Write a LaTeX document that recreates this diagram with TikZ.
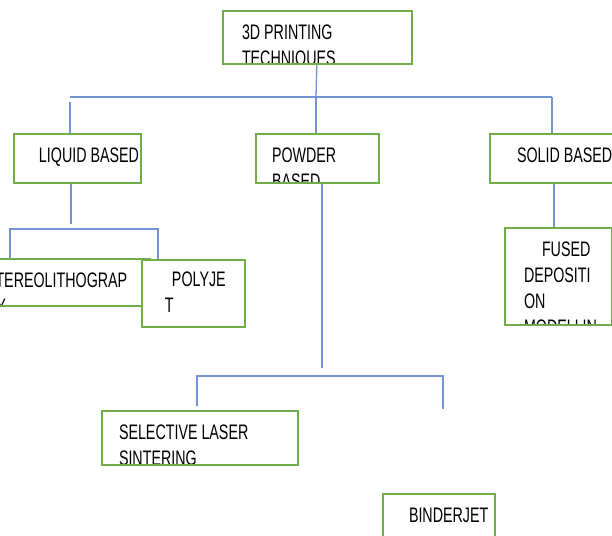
\documentclass[tikz,border=0pt]{standalone}
\usepackage{fontspec}
\setmainfont{Liberation Sans}[FakeStretch=0.68]
\usetikzlibrary{calc}
\definecolor{boxgreen}{RGB}{112,173,71}
\definecolor{linkblue}{RGB}{114,147,214}
\newcommand\boxfont{\fontsize{15.75pt}{19.5pt}\selectfont}

\begin{document}
\begin{tikzpicture}[x=0.75pt, y=-0.75pt,
  txt/.style={draw=none, fill=none, inner sep=0pt, minimum width=0pt, minimum height=0pt, align=left, font=\boxfont},
  box/.style n args={3}{draw=boxgreen, line width=1.5pt, fill=white, anchor=north west, inner sep=0pt,
    path picture={\node[txt, anchor=north west] at ([xshift=#1*0.75pt, yshift=-#2*0.75pt]path picture bounding box.north west) {#3};}},
  boxsize/.style 2 args={minimum width=#1*0.75pt, minimum height=#2*0.75pt},
  link/.style={draw=linkblue, line width=1pt}]
  \useasboundingbox (0,0) rectangle (612,536);
  \clip (0,0) rectangle (612,536);

  \node[box={18}{13}{3D PRINTING\\TECHNIQUES}, boxsize={189}{53}] (techniques) at (222,10) {};

  \node[box={24}{13}{LIQUID BASED}, boxsize={127}{49}] (liquid) at (13,133) {};
  \node[box={15}{13}{POWDER\\BASED}, boxsize={123}{49}] (powder) at (255,133) {};
  \node[box={26}{13}{SOLID BASED}, boxsize={128}{49}] (solid) at (489,133) {};

  \node[box={16}{13}{STEREOLITHOGRAP\\HY}, boxsize={181}{47}] (stereo) at (-32,258) {};
  \node[box={22}{11}{\hspace*{5.25pt}POLYJE\\T}, boxsize={103}{67}] (polyjet) at (141,259) {};

  \node[box={18}{13}{\hspace*{13.5pt}FUSED\\DEPOSITI\\ON\\MODELLIN\\G}, boxsize={107}{97}] (fdm) at (504,227) {};

  \node[box={16}{13}{SELECTIVE LASER\\SINTERING}, boxsize={196}{54}] (sls) at (101,410) {};
  \node[box={25}{13}{BINDERJET}, boxsize={112}{60}] (binder) at (382,493) {};

  % main branch
  \coordinate (bus) at (316,97);
  \coordinate (busL) at (70,97);
  \coordinate (busR) at (552,97);
  \draw[link] (techniques) -- (bus);
  \draw[link] (busL) -- (busR);
  \draw[link] ([yshift=-5*0.75pt]busL) -- (busL |- liquid.north);
  \draw[link] (bus) -- (bus |- powder.north);
  \draw[link] (busR) -- (busR |- solid.north);

  % liquid based
  \coordinate (lq) at (71,224);
  \coordinate (lqL) at (10,229);
  \coordinate (lqR) at (158,229);
  \draw[link] (lq |- liquid.south) -- (lq);
  \draw[link] (lqL |- stereo.north) -- (lqL) -- (lqR) -- (lqR |- polyjet.north);

  % solid based
  \draw[link] (solid.south) -- (solid.south |- fdm.north);

  % powder based
  \coordinate (pw) at (322,368);
  \coordinate (pwL) at (197,376);
  \coordinate (pwR) at (443,376);
  \coordinate (slsEnd) at (197,406);
  \coordinate (binEnd) at (443,409);
  \draw[link] (pw |- powder.south) -- (pw);
  \draw[link] (slsEnd) -- (pwL) -- (pwR) -- (binEnd);
\end{tikzpicture}
\end{document}
